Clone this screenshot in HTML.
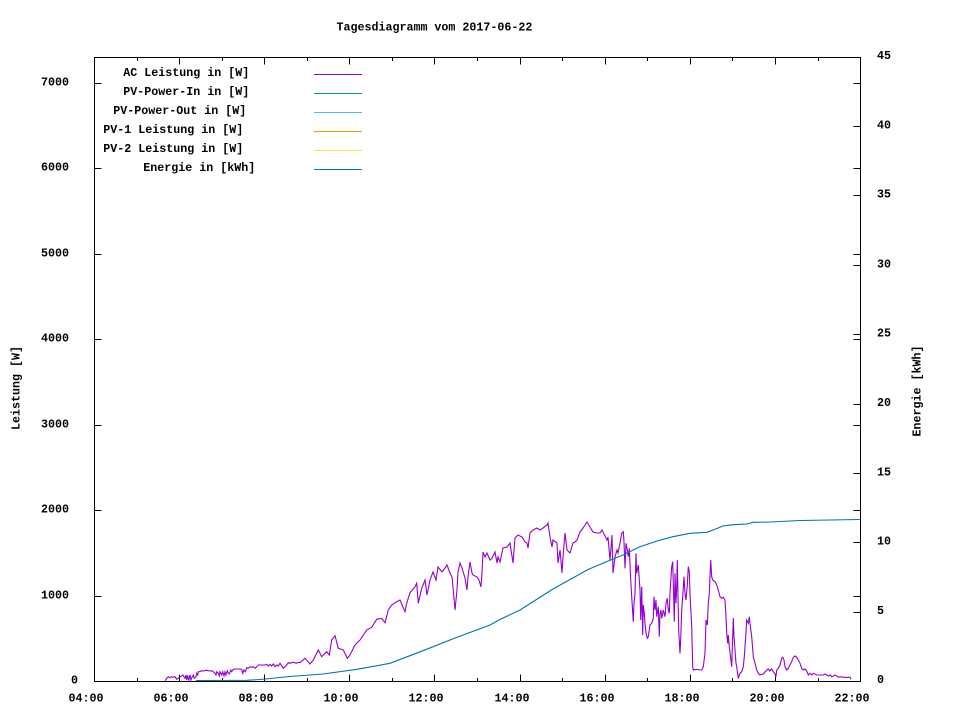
<!DOCTYPE html>
<html>
<head>
<meta charset="utf-8">
<style>
html,body{margin:0;padding:0;background:#fff;}
svg{display:block;}
text{font-family:"Liberation Mono","DejaVu Sans Mono",monospace;font-weight:bold;font-size:11.67px;fill:#000;}
</style>
</head>
<body>
<svg width="960" height="720" viewBox="0 0 960 720" xmlns="http://www.w3.org/2000/svg">
<rect x="0" y="0" width="960" height="720" fill="#fff"/>

<!-- title -->
<text x="336.5" y="30.7">Tagesdiagramm vom 2017-06-22</text>

<!-- axis labels -->
<text transform="translate(19.5,388) rotate(-90)" text-anchor="middle">Leistung [W]</text>
<text transform="translate(920.5,391) rotate(-90)" text-anchor="middle">Energie [kWh]</text>

<!-- ticks -->
<g stroke="#000" stroke-width="1" fill="none" shape-rendering="crispEdges">
<!-- x major (even hours) bottom & top -->
<path d="M94.5 681.5V674.5M179.5 681.5V674.5M264.5 681.5V674.5M349.5 681.5V674.5M434.5 681.5V674.5M520.5 681.5V674.5M605.5 681.5V674.5M690.5 681.5V674.5M775.5 681.5V674.5M860.5 681.5V674.5"/>
<path d="M94.5 57.5V64.5M179.5 57.5V64.5M264.5 57.5V64.5M349.5 57.5V64.5M434.5 57.5V64.5M520.5 57.5V64.5M605.5 57.5V64.5M690.5 57.5V64.5M775.5 57.5V64.5M860.5 57.5V64.5"/>
<!-- x minor (odd hours) -->
<path d="M137.5 681.5V678M222.5 681.5V678M307.5 681.5V678M392.5 681.5V678M477.5 681.5V678M562.5 681.5V678M647.5 681.5V678M732.5 681.5V678M818.5 681.5V678"/>
<path d="M137.5 57.5V61M222.5 57.5V61M307.5 57.5V61M392.5 57.5V61M477.5 57.5V61M562.5 57.5V61M647.5 57.5V61M732.5 57.5V61M818.5 57.5V61"/>
<!-- y ticks left + mirrored right -->
<path d="M94.5 596.5H101.5M94.5 510.5H101.5M94.5 425.5H101.5M94.5 339.5H101.5M94.5 254.5H101.5M94.5 168.5H101.5M94.5 83.5H101.5"/>
<path d="M860.5 596.5H853.5M860.5 510.5H853.5M860.5 425.5H853.5M860.5 339.5H853.5M860.5 254.5H853.5M860.5 168.5H853.5M860.5 83.5H853.5"/>
<!-- y2 ticks right -->
<path d="M860.5 612.5H853.5M860.5 542.5H853.5M860.5 473.5H853.5M860.5 404.5H853.5M860.5 334.5H853.5M860.5 265.5H853.5M860.5 195.5H853.5M860.5 126.5H853.5"/>
<!-- border -->
<rect x="94.5" y="57.5" width="766" height="624"/>
</g>

<!-- left y labels -->
<text x="71" y="683.5">0</text>
<text x="41" y="598.5">1000</text>
<text x="41" y="512.5">2000</text>
<text x="41" y="427.5">3000</text>
<text x="41" y="341.5">4000</text>
<text x="41" y="256.5">5000</text>
<text x="41" y="170.5">6000</text>
<text x="41" y="85.5">7000</text>

<!-- right y2 labels -->
<text x="877" y="683">0</text>
<text x="877" y="614">5</text>
<text x="877" y="544.5">10</text>
<text x="877" y="475.5">15</text>
<text x="877" y="406">20</text>
<text x="877" y="336.5">25</text>
<text x="877" y="267.5">30</text>
<text x="877" y="197.5">35</text>
<text x="877" y="128.5">40</text>
<text x="877" y="59">45</text>

<!-- x labels -->
<g text-anchor="middle">
<text x="86" y="701.5">04:00</text>
<text x="171" y="701.5">06:00</text>
<text x="256" y="701.5">08:00</text>
<text x="341" y="701.5">10:00</text>
<text x="426" y="701.5">12:00</text>
<text x="512" y="701.5">14:00</text>
<text x="597" y="701.5">16:00</text>
<text x="682" y="701.5">18:00</text>
<text x="767" y="701.5">20:00</text>
<text x="852" y="701.5">22:00</text>
</g>

<!-- legend -->
<text x="123.3" y="76">AC Leistung in [W]</text>
<text x="123.3" y="95">PV-Power-In in [W]</text>
<text x="113.3" y="114">PV-Power-Out in [W]</text>
<text x="103.3" y="133">PV-1 Leistung in [W]</text>
<text x="103.3" y="152">PV-2 Leistung in [W]</text>
<text x="143.3" y="171">Energie in [kWh]</text>
<g stroke-width="1" shape-rendering="crispEdges">
<line x1="314" y1="74.5" x2="362" y2="74.5" stroke="#9400d3"/>
<line x1="314" y1="93.5" x2="362" y2="93.5" stroke="#009e73"/>
<line x1="314" y1="112.5" x2="362" y2="112.5" stroke="#56b4e9"/>
<line x1="314" y1="131.5" x2="362" y2="131.5" stroke="#e69f00"/>
<line x1="314" y1="150.5" x2="362" y2="150.5" stroke="#f0e442"/>
<line x1="314" y1="169.5" x2="362" y2="169.5" stroke="#0072b2"/>
</g>

<!-- AC Leistung -->
<polyline fill="none" stroke="#9400d3" stroke-width="1.1" stroke-linejoin="miter" points="
165,681 166.7,678.3 168.3,676.7 170,677.7 171.7,676.7 173.3,677.3 175,676.7 176.7,679.3 178.3,678 180,676.7 181.7,676 182.7,675 183.3,675.7 185,678.3 186,675 186.7,680 187.7,675.3 188.7,680.7 190,675 191,680 192.3,676.7 193.3,675 194.3,678.3 196,676.7 196.7,673.3 197.7,675 198.3,671.7 200,671.7 201.7,670.7 203.3,671 206.7,670.3 210,671 211.7,670.7 213.3,671.7 215,673.3 216,675 216.7,671.7 218.3,673.3 219.3,676 220,671.7 221.7,675 222.7,671.7 224,676 225,671.7 226,675 227.3,670.7 228.3,673.3 229.3,674 230.7,670 231.7,671.7 233.3,669.3 236.7,669 240,669 241.7,669.3 242.7,673.3 244,670 245.3,671.7 246.7,667.7 248.3,668.3 250,666.7 251.7,667.3 253.3,666.7 255,668.3 256.7,666.7 258.3,665 261.7,665 265,665 266.7,664.3 268.3,666 270,664.3 271.7,666 273.3,664 275,666.7 276.7,665 278.3,666 280,663.3 283.3,668.3 285,666.7 286.7,665 288.3,662.7 290,663.3 291.7,662.7 293.3,662.3 296.7,663.3 298.3,662.3 300,662.7 305,658.3 310,664 313.3,660 318.3,650 321.7,656.7 326.7,651.7 329.3,655 331.7,640 335,635.7 338.3,648.3 343.3,650 347.3,658.3 350,655 355,645 360,640 366.7,630 371.7,627.3 376.7,619.3 381.7,618.3 385,622.7 388.3,610 391.7,605 396.7,601.7 400,600 405,611.7 406.7,603.3 410,592.7 415,586.7 416.7,583.3 418.3,603.3 421.7,588.3 425,580 427,595 430,580 433,572 436,580 438,567 442,572 445,568 447,565 450,573 452,577 453,587 455,610 457,590 458,572 460,563 462,568 465,578 467,590 468,577 470,562 472,573 473,575 477,577 479,580 481,587 482,573 483,552 485,557 487,553 490,560 492,558 495,552 497,563 498,557 500,562 503,548 507,547 510,543 513,563 515,538 518,535 522,537 525,542 527,543 528,548 530,533 533,530 537,528 540,530 543,528 547,525 548,523 550,537 552,547 553,540 557,543 558,563 560,550 562,573 563,557 565,533 567,550 570,553 573,543 575,542 577,540 580,532 583,528 587,522 590,527 593,532 597,533 600,533 602,530 603,532 607,540 608,537 610,560 612,535 613,573 615,557 617,550 618,553 620,543 621.7,533.3 623.3,531.7 624,541.7 625,568.3 626,543.3 627.3,550 628.3,556.7 629.3,548.3 630.7,580 631.7,596.7 633.3,621.7 634,603.3 635,593.3 636,553.3 636.7,573.3 638.3,565 640,590 640.7,620 641.7,586.7 642.7,635 643.3,605 644.3,613.3 645,623.3 646,633.3 647.3,638.3 648.3,636.7 650,625 651.7,623.3 653.3,618.3 654,596.7 655,610 656,600 656.7,616.7 658.3,606.7 659.3,636.7 660,613.3 661,610 661.7,618.3 663.3,610 665,616.7 666,603.3 667.3,598.3 668.3,610 669.3,613.3 670,593.3 671.7,566.7 672.7,561.7 673.3,583.3 674.3,621.7 675,573.3 676,603.3 676.7,586.7 677.3,560 678,596.7 678.7,630 680,653.3 680.7,640 681.7,610 682.7,596.7 684,576.7 685,593.3 686,600 687.3,585 688.3,566.7 689.3,571.7 690,593.3 691.7,626.7 692.7,666.7 693.3,670 696.7,669.3 700,670 701.7,670 703.3,666.7 705,653.3 706,620 707.3,625 708.3,603.3 709.3,593.3 710.7,560 711.7,576.7 712.7,580 715,581.7 716.7,585 718.3,590 720,596.7 721.7,598.3 723.3,597.3 725,600 726,616.7 726.7,633.3 727.7,643.3 728.3,635 729.3,646.7 730.7,658.3 731.7,666.7 733.3,618 734,636.7 735,650 736,663.3 736.7,666.7 738.3,678.3 740,673.3 741.7,671.7 743.3,666.7 744.3,656.7 745.7,636.7 746.7,620 748.3,623.3 749.3,616.7 750,623.3 751.7,636.7 753.3,656.7 755,663.3 756.7,670 758.3,673.3 760,675 763.3,674 766.7,670 768.3,669 770,671 771.7,669 773.3,671.7 775,674 776,676.7 776.7,670 778.3,668.3 780,665 781.7,658.3 782.7,657.3 784,660 785,666.7 786.7,670 788.3,668.3 790,665 791.7,661.7 793.3,657.3 795,656 796.7,657.3 798.3,660 800,663.3 801.7,668.3 803.3,670 805,669 806.7,671 808.3,675 810,673.3 811.7,675 813.3,673.3 816.7,675 820,675 823.3,675 825,674 826.7,675 828.3,676 830,675 831.7,676.7 833.3,676 835,675 836.7,676 838.3,677.3 840,676.7 843.3,677.3 846.7,677.3 850,677.3 850.7,679.3"/>

<!-- Energie -->
<polyline fill="none" stroke="#0072b2" stroke-width="1.1" points="
196,680.5 247,680.3 260,679.5 290,676.5 323,674 357,669.3 390,663.3 423,650.7 457,637.3 490,625 500,619.5 520,610 553,589 588,569.5 607,561.5 623,555 640,546.7 657,541 673,536.7 690,533.3 707,532.3 713,530 723,526 733,524.7 747,524 753,522.3 770,522 800,520.5 860,519.5"/>
</svg>
</body>
</html>
